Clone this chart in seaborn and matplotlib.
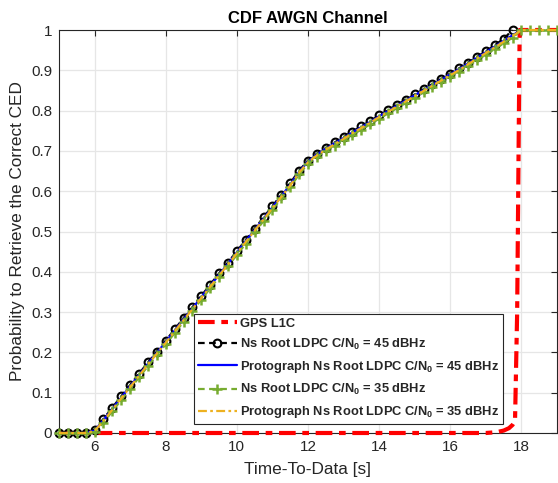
import matplotlib
matplotlib.use("Agg")
import matplotlib.pyplot as plt
import seaborn as sns
import pandas as pd

# ---------------- data ----------------
time_s = [5.00, 5.25, 5.50, 5.75, 6.00, 6.25, 6.50, 6.75, 7.00, 7.25, 7.50, 7.75,
          8.00, 8.25, 8.50, 8.75, 9.00, 9.25, 9.50, 9.75, 10.00, 10.25, 10.50, 10.75,
          11.00, 11.25, 11.50, 11.75, 12.00, 12.25, 12.50, 12.75, 13.00, 13.25, 13.50,
          13.75, 14.00, 14.25, 14.50, 14.75, 15.00, 15.25, 15.50, 15.75, 16.00, 16.25,
          16.50, 16.75, 17.00, 17.25, 17.50, 17.75, 18.00, 18.25, 18.50, 18.75, 19.00]

gps_time = [5.0, 17.0, 17.3, 17.5, 17.65, 17.75, 17.82, 17.88, 17.95, 19.0]
gps_cdf = [0.0, 0.0, 0.002, 0.006, 0.012, 0.02, 0.03, 0.3, 1.0, 1.0]

ns45_cdf = [0, 0, 0, 0, 0.008, 0.035, 0.063, 0.091, 0.119, 0.147, 0.175, 0.202,
            0.229, 0.257, 0.285, 0.312, 0.340, 0.368, 0.396, 0.423, 0.451, 0.479,
            0.507, 0.535, 0.563, 0.591, 0.620, 0.651, 0.676, 0.693, 0.707, 0.721,
            0.734, 0.748, 0.761, 0.774, 0.788, 0.801, 0.814, 0.827, 0.840, 0.853,
            0.866, 0.879, 0.892, 0.905, 0.919, 0.933, 0.947, 0.962, 0.978, 1.000]

proto45_cdf = [0, 0, 0, 0, 0.006, 0.032, 0.060, 0.088, 0.116, 0.144, 0.172, 0.199,
               0.226, 0.254, 0.282, 0.309, 0.337, 0.365, 0.393, 0.420, 0.448, 0.476,
               0.504, 0.532, 0.560, 0.588, 0.616, 0.648, 0.674, 0.691, 0.705, 0.719,
               0.732, 0.746, 0.759, 0.772, 0.786, 0.799, 0.812, 0.825, 0.838, 0.851,
               0.864, 0.877, 0.890, 0.903, 0.917, 0.931, 0.945, 0.959, 0.973, 0.987,
               1.000]

ns35_cdf = [0, 0, 0, 0, 0.002, 0.026, 0.054, 0.082, 0.110, 0.138, 0.166, 0.193,
            0.220, 0.248, 0.276, 0.303, 0.331, 0.359, 0.387, 0.414, 0.442, 0.470,
            0.498, 0.526, 0.554, 0.582, 0.610, 0.642, 0.668, 0.685, 0.699, 0.713,
            0.726, 0.740, 0.753, 0.766, 0.780, 0.793, 0.806, 0.819, 0.832, 0.845,
            0.858, 0.871, 0.884, 0.897, 0.911, 0.925, 0.939, 0.953, 0.967, 0.981,
            1.000, 1, 1, 1, 1]

proto35_cdf = [0, 0, 0, 0, 0.005, 0.030, 0.058, 0.086, 0.114, 0.142, 0.170, 0.197,
               0.224, 0.252, 0.280, 0.307, 0.335, 0.363, 0.391, 0.418, 0.446, 0.474,
               0.502, 0.530, 0.558, 0.586, 0.614, 0.646, 0.672, 0.689, 0.703, 0.717,
               0.730, 0.744, 0.757, 0.770, 0.784, 0.797, 0.810, 0.823, 0.836, 0.849,
               0.862, 0.875, 0.888, 0.901, 0.915, 0.929, 0.943, 0.957, 0.971, 0.985,
               1.000, 1, 1, 1, 1]

labels = ["GPS L1C",
          r"Ns Root LDPC C/N$_0$ = 45 dBHz",
          r"Protograph Ns Root LDPC C/N$_0$ = 45 dBHz",
          r"Ns Root LDPC C/N$_0$ = 35 dBHz",
          r"Protograph Ns Root LDPC C/N$_0$ = 35 dBHz"]
x_ticks = [6, 8, 10, 12, 14, 16, 18]
y_ticks = [0, 0.1, 0.2, 0.3, 0.4, 0.5, 0.6, 0.7, 0.8, 0.9, 1]
y_tick_labels = ["0", "0.1", "0.2", "0.3", "0.4", "0.5", "0.6", "0.7", "0.8", "0.9", "1"]

# ---------------- style ----------------
sns.set_theme(style="white")
plt.rcParams["font.family"] = ["Liberation Sans", "DejaVu Sans"]
plt.rcParams["mathtext.fontset"] = "custom"
plt.rcParams["mathtext.rm"] = "Liberation Sans:bold"
plt.rcParams["mathtext.it"] = "Liberation Sans:bold"
plt.rcParams["mathtext.bf"] = "Liberation Sans:bold"

fig = plt.figure(figsize=(5.58, 4.83), dpi=100)
ax = fig.add_axes([59 / 558, 50 / 483, 498 / 558, 403 / 483])

def series(x, y):
    return pd.DataFrame({"t": x[:len(y)], "p": y})

sns.lineplot(data=series(gps_time, gps_cdf), x="t", y="p", ax=ax, color="#ff0000",
             linewidth=3.0, linestyle=(0, (4, 1.6, 1.6, 1.6)), label=labels[0],
             clip_on=False, zorder=3)
sns.lineplot(data=series(time_s, ns45_cdf), x="t", y="p", ax=ax, color="black",
             linewidth=1.6, linestyle=(0, (3, 2)), marker="o", markersize=5.6,
             markerfacecolor="none", markeredgecolor="black", markeredgewidth=1.5,
             label=labels[1], clip_on=False, zorder=4)
sns.lineplot(data=series(time_s, proto45_cdf), x="t", y="p", ax=ax, color="#0000ff",
             linewidth=1.6, linestyle="-", label=labels[2], clip_on=False, zorder=5)
sns.lineplot(data=series(time_s, ns35_cdf), x="t", y="p", ax=ax, color="#77ac30",
             linewidth=1.6, linestyle=(0, (3, 2)), marker="+", markersize=6.5,
             markeredgewidth=1.8, markeredgecolor="#77ac30", label=labels[3],
             clip_on=False, zorder=6)
sns.lineplot(data=series(time_s, proto35_cdf), x="t", y="p", ax=ax, color="#edb120",
             linewidth=1.6, linestyle=(0, (4, 1.5, 1.2, 1.5)), label=labels[4],
             clip_on=False, zorder=7)

ax.set_xlim(5, 19)
ax.set_ylim(0, 1)
ax.set_xticks(x_ticks)
ax.set_xticklabels([str(v) for v in x_ticks])
ax.set_yticks(y_ticks)
ax.set_yticklabels(y_tick_labels)
ax.grid(True, color="#e6e6e6", linewidth=0.9)
ax.set_axisbelow(True)
for s in ax.spines.values():
    s.set_color("#262626")
    s.set_linewidth(0.8)
ax.tick_params(direction="in", length=4, width=0.8, color="#262626",
               top=True, right=True, labelsize=11, labelcolor="#262626", pad=5)

ax.set_xlabel("Time-To-Data [s]", fontsize=12.4, color="#262626", labelpad=6)
ax.set_ylabel("Probability to Retrieve the Correct CED", fontsize=12.4,
              color="#262626", labelpad=4)
ax.set_title("CDF AWGN Channel", fontsize=12, fontweight="bold", color="black", pad=5)

leg = ax.legend(loc="lower left", bbox_to_anchor=(0.271, 0.022), borderaxespad=0,
                prop={"weight": "bold", "size": 9.3}, frameon=True, fancybox=False,
                edgecolor="#262626", framealpha=1, handlelength=3.0,
                handletextpad=0.25, labelspacing=0.55, borderpad=0.3)
leg.get_frame().set_linewidth(0.8)
leg.set_zorder(10)

fig.savefig("out.png", dpi=100)
